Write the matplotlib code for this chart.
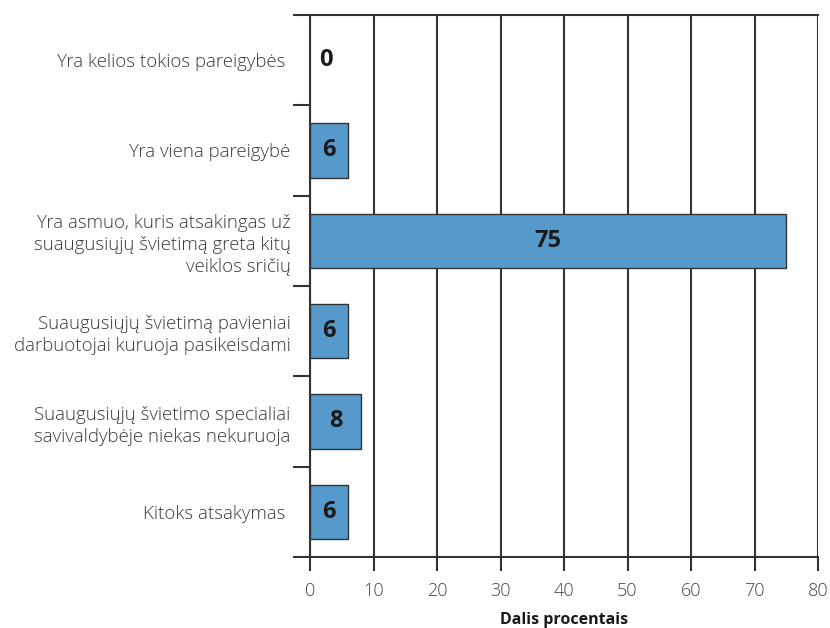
import numpy as np
import matplotlib
matplotlib.use('Agg')
import matplotlib.pyplot as plt

plt.rcParams['font.family'] = ['Open Sans', 'DejaVu Sans']

categories = [
    'Yra kelios tokios pareigybės ',
    'Yra viena pareigybė',
    'Yra asmuo, kuris atsakingas už\nsuaugusiųjų švietimą greta kitų\nveiklos sričių',
    'Suaugusiųjų švietimą pavieniai\ndarbuotojai kuruoja pasikeisdami',
    'Suaugusiųjų švietimo specialiai\nsavivaldybėje niekas nekuruoja',
    'Kitoks atsakymas ',
]
values = [0, 6, 75, 6, 8, 6]
xticks = [0, 10, 20, 30, 40, 50, 60, 70, 80]

line_col = '#333333'
bar_col = '#559ACB'

fig = plt.figure(figsize=(8.3, 6.28), dpi=100)
ax = fig.add_axes([310 / 830, 1 - 557 / 628, 508 / 830, 542 / 628])

n = len(categories)
ypos = np.arange(n)
lws = [1 if v > 0 else 0 for v in values]
ax.barh(ypos, values, height=0.6, color=bar_col, edgecolor=line_col, linewidth=lws, zorder=3)

for y, v in zip(ypos, values):
    x = v / 2 if v > 0 else 2.5
    ax.text(x, y, str(v), ha='center', va='center', fontsize=17, fontweight='bold',
            color='#1a1a1a', zorder=4)

ax.set_xlim(0, 80)
ax.set_ylim(n - 0.5, -0.5)
ax.set_xticks(xticks)
ax.set_xticklabels([str(t) for t in xticks], fontsize=13, color='#444444', fontweight='light')
ax.xaxis.grid(True, color=line_col, linewidth=1.5, zorder=1)

# category boundaries as ticks, labels in the middle
ax.set_yticks(np.arange(n + 1) - 0.5)
ax.set_yticklabels([])
ax.set_yticks(ypos, minor=True)
ax.set_yticklabels(categories, minor=True, fontsize=13.4, color='#3a3a3a',
                   fontweight='light', linespacing=1.3)
ax.tick_params(axis='y', which='major', length=12, width=1.5, color=line_col)
ax.tick_params(axis='y', which='minor', length=0, pad=14)
ax.tick_params(axis='x', length=10, width=1.5, color=line_col, pad=8)

for side in ['top', 'bottom', 'left', 'right']:
    ax.spines[side].set_color(line_col)
    ax.spines[side].set_linewidth(1.5)
ax.spines['right'].set_visible(False)

ax.set_xlabel('Dalis procentais', fontsize=11.5, fontweight='bold', color='#1a1a1a', labelpad=9)

fig.savefig('out.png', dpi=100)
